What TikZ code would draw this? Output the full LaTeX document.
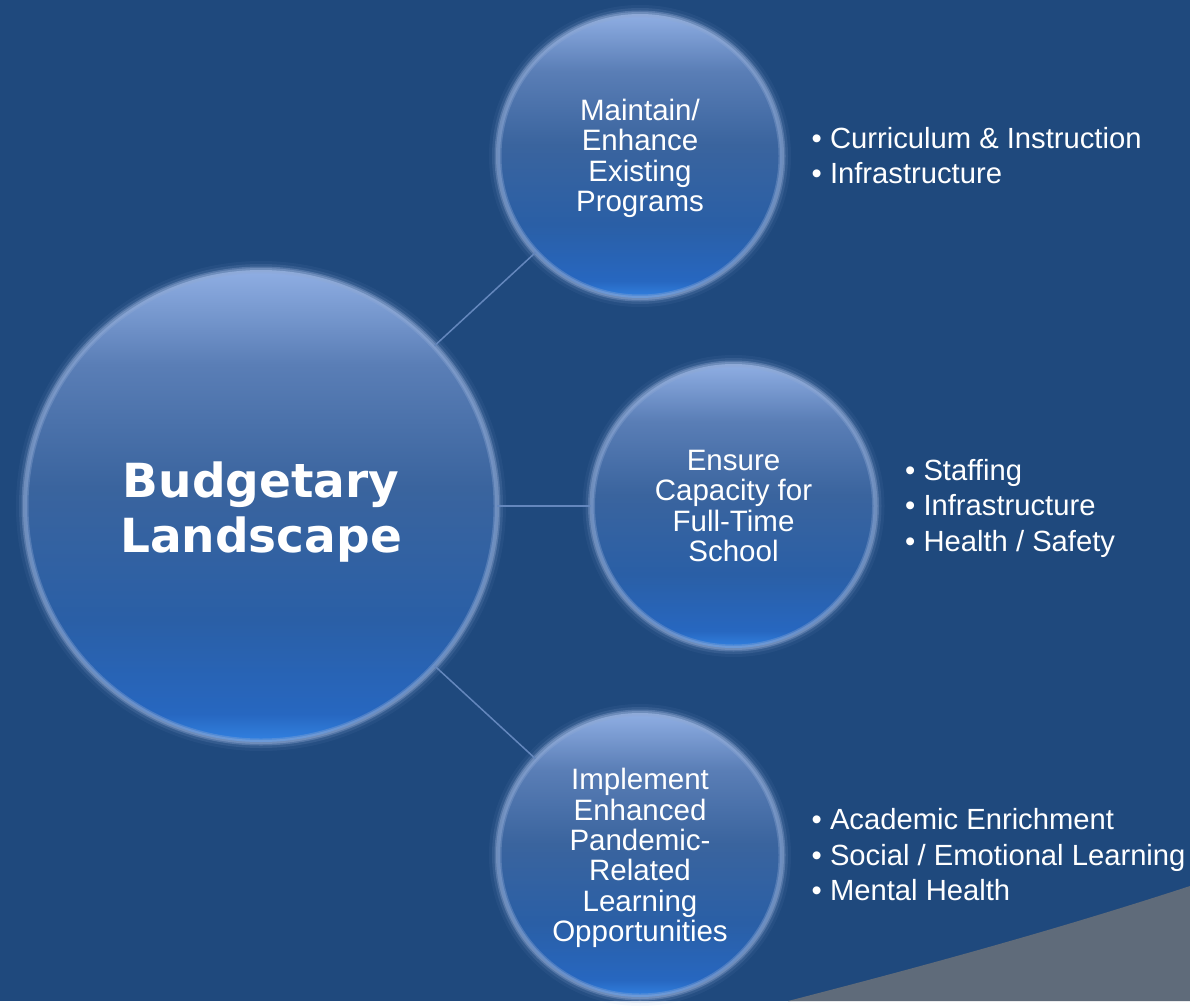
\documentclass[tikz,border=0pt]{standalone}
\usepackage{fontspec}
\setmainfont{Liberation Sans}
\newfontfamily\titlefont{DejaVu Sans}
\definecolor{bg}{HTML}{1F497D}
\definecolor{graybase}{HTML}{5F6B7A}
\definecolor{connc}{HTML}{6487BD}
\definecolor{rimc}{HTML}{8FA9D4}
\definecolor{cb0}{HTML}{3282E2}
\definecolor{cb1}{HTML}{2767C0}
\definecolor{cb2}{HTML}{2A5FA6}
\definecolor{cb3}{HTML}{3A649E}
\definecolor{cb4}{HTML}{5A7EB6}
\definecolor{cb5}{HTML}{8FAEE3}
\pgfdeclareverticalshading{bubble}{100bp}{color(0bp)=(cb0); color(25bp)=(cb0); color(28bp)=(cb1); color(38bp)=(cb2); color(52bp)=(cb3); color(65bp)=(cb4); color(75bp)=(cb5); color(100bp)=(cb5)}
\begin{document}
\begin{tikzpicture}[x=1pt,y=-1pt,
  bubble/.style={circle, inner sep=0pt, shade, shading=bubble, text=white, align=center,
    preaction={draw=rimc, line width=18pt, draw opacity=0.07},
    preaction={draw=rimc, line width=12pt, draw opacity=0.15},
    postaction={draw=rimc, line width=7pt, draw opacity=0.35},
    postaction={draw=rimc, line width=4pt, draw opacity=0.45}},
  bubtext/.style={text=white, align=center, inner sep=0pt},
  bigbubble/.style={bubble, minimum size=472pt},
  smallbubble/.style={bubble, minimum size=284pt},
  bigtext/.style={bubtext, font=\fontsize{47}{55}\selectfont\titlefont\bfseries},
  smalltext/.style={bubtext, font=\fontsize{29.5}{30.4}\selectfont},
  conn/.style={draw=connc, line width=1.5pt},
  bullets/.style={anchor=west, inner sep=0pt, text=white, align=left, font=\fontsize{29.2}{35.5}\selectfont}]
\fill[bg] (0,0) rectangle (1190,1001);
\fill[graybase] (788,1001) .. controls (900,972) and (1040,935) .. (1190,886) -- (1190,1001) -- cycle;
\node[bigbubble, label={[bigtext, yshift=-6.5pt]center:Budgetary\\Landscape}] (big) at (261,506) {};
\node[smallbubble, label={[smalltext, yshift=-2.5pt]center:Maintain/\\Enhance\\Existing\\Programs}] (top) at (640,156) {};
\node[smallbubble, label={[smalltext, yshift=0pt]center:Ensure\\Capacity for\\Full-Time\\School}] (mid) at (733.5,506) {};
\node[smallbubble, label={[smalltext, yshift=-3pt]center:Implement\\Enhanced\\Pandemic-\\Related\\Learning\\Opportunities}] (bot) at (640,855) {};
\draw[conn] (big) -- (top);
\draw[conn] (big) -- (mid);
\draw[conn] (big) -- (bot);
\node[bullets] (ltop) at (811.5,155.5) {• Curriculum \& Instruction\\• Infrastructure};
\node[bullets] (lmid) at (905,508) {• Staffing\\• Infrastructure\\• Health / Safety};
\node[bullets] (lbot) at (811.5,855) {• Academic Enrichment\\• Social / Emotional Learning\\• Mental Health};
\end{tikzpicture}
\end{document}
